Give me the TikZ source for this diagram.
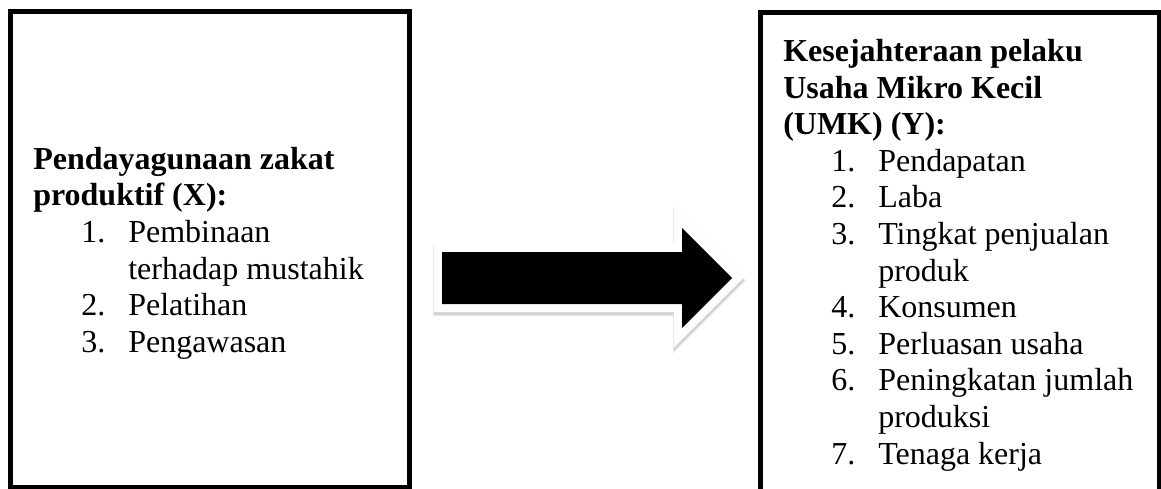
\documentclass[tikz,border=0pt]{standalone}
\usepackage{fontspec}
\setmainfont{Liberation Serif}
\begin{document}
\begin{tikzpicture}[x=0.75pt,y=-0.75pt,
  boxline/.style={line width=3.75pt, draw=black},
  headtxt/.style={anchor=base west, inner sep=0pt, font=\bfseries\fontsize{24}{27}\selectfont},
  itemtxt/.style={anchor=base west, inner sep=0pt, font=\fontsize{24}{27}\selectfont},
  arrowshape/.style={line join=miter}]
\useasboundingbox (0,0) rectangle (1161,489);
\begin{scope}
\clip (0,0) rectangle (1161,489);
% boxes
\draw[boxline] (10.5,11.5) rectangle (409,487);
\draw[boxline] (760,12.5) rectangle (1159,520);
% arrow: soft shadow, white border, black fill
\def\arrowpath{(442,252) -- (682,252) -- (682,228) -- (732,278) -- (682,328) -- (682,304) -- (442,304) -- cycle}
\foreach \w/\o in {15/0.03,14/0.04,13/0.05,12.5/0.06}{
  \draw[arrowshape, black, opacity=\o, line width=\w pt, shift={(0.5,2.5)}] \arrowpath;
}
\draw[arrowshape, white, line width=12pt] \arrowpath;
\fill[black] \arrowpath;
\end{scope}
% left box text
\node[headtxt] (lh1) at (33,169.3) {Pendayagunaan zakat};
\node[headtxt] (lh2) at (33,205.9) {produktif (X):};
\node[itemtxt] (ln1) at (81,242.5) {1.};
\node[itemtxt] (lt1) at (128,242.5) {Pembinaan};
\node[itemtxt] (lt1b) at (128,279.1) {terhadap mustahik};
\node[itemtxt] (ln2) at (81,315.7) {2.};
\node[itemtxt] (lt2) at (128,315.7) {Pelatihan};
\node[itemtxt] (ln3) at (81,352.3) {3.};
\node[itemtxt] (lt3) at (128,352.3) {Pengawasan};
% right box text
\node[headtxt] (rh1) at (783,61.5) {Kesejahteraan pelaku};
\node[headtxt] (rh2) at (783,98.1) {Usaha Mikro Kecil};
\node[headtxt] (rh3) at (783,134.7) {(UMK) (Y):};
\node[itemtxt] (rn1) at (831,171.3) {1.};
\node[itemtxt] (rt1) at (878,171.3) {Pendapatan};
\node[itemtxt] (rn2) at (831,207.9) {2.};
\node[itemtxt] (rt2) at (878,207.9) {Laba};
\node[itemtxt] (rn3) at (831,244.5) {3.};
\node[itemtxt] (rt3) at (878,244.5) {Tingkat penjualan};
\node[itemtxt] (rt3b) at (878,281.1) {produk};
\node[itemtxt] (rn4) at (831,317.7) {4.};
\node[itemtxt] (rt4) at (878,317.7) {Konsumen};
\node[itemtxt] (rn5) at (831,354.3) {5.};
\node[itemtxt] (rt5) at (878,354.3) {Perluasan usaha};
\node[itemtxt] (rn6) at (831,390.9) {6.};
\node[itemtxt] (rt6) at (878,390.9) {Peningkatan jumlah};
\node[itemtxt] (rt6b) at (878,427.5) {produksi};
\node[itemtxt] (rn7) at (831,464.1) {7.};
\node[itemtxt] (rt7) at (878,464.1) {Tenaga kerja};
\end{tikzpicture}
\end{document}
